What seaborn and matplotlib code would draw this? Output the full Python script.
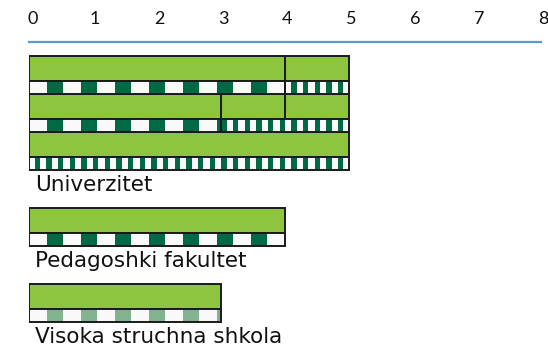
import numpy as np
import pandas as pd
import matplotlib
matplotlib.use("Agg")
import matplotlib.pyplot as plt
import matplotlib.transforms as mtransforms
import seaborn as sns

# ---- data ----
row_ids = ["U 4+1", "U 3+1+1", "U 5", "P 4", "V 3"]
row_pos = [0, 1, 2, 4, 6]
segments = [[4, 1], [3, 1, 1], [5], [4], [3]]
stripe_kinds = [["wide", "narrow"], ["wide", "narrow"], ["narrow"], ["wide"], ["wide_light"]]
stripe_lengths = [[4, 1], [3, 2], [5], [4], [3]]
group_labels = ["Univerzitet", "Pedagoshki fakultet", "Visoka struchna shkola"]
group_label_rows = [3, 5, 7]
x_ticks = [0, 1, 2, 3, 4, 5, 6, 7, 8]

# ---- style ----
GREEN = "#8DC53F"
DARK = "#006A44"
LIGHT = "#80B38E"
WHITE = "#F9F9F9"
EDGE = "#1A1A1A"
BLUE = "#5B9BD5"

sns.set_theme(style="white")
plt.rcParams["font.family"] = ["DejaVu Sans"]

fig = plt.figure(figsize=(5.48, 3.47), dpi=100)
ax = fig.add_axes([29 / 548, 0, 512 / 548, 305 / 347])

totals = [sum(s) for s in segments]
df = pd.DataFrame({"row": row_pos, "total": totals, "id": row_ids})

GH = 0.66  # green bar height (row units)
SH = 0.34  # stripe bar height
sns.barplot(data=df, x="total", y="row", orient="h", native_scale=True,
            color=GREEN, saturation=1, width=GH, edgecolor=EDGE, linewidth=1.4,
            ax=ax, zorder=2)

# internal dividers of green bars
for k, segs in zip(row_pos, segments):
    cum = np.cumsum(segs)[:-1]
    if len(cum):
        ax.vlines(cum, k - GH / 2, k + GH / 2, color=EDGE, lw=1.4, zorder=3)

# striped bars
patterns = {
    "wide": (0.531, 0.276, 0.26, DARK),
    "wide_light": (0.531, 0.276, 0.26, LIGHT),
    "narrow": (0.1823, 0.089, 0.085, DARK),
}
for k, kinds, lens in zip(row_pos, stripe_kinds, stripe_lengths):
    yc = k + GH / 2 + SH / 2
    x0 = 0.0
    for kind, L in zip(kinds, lens):
        x1 = x0 + L
        period, phase, dw, col = patterns[kind]
        ax.barh(yc, L, left=x0, height=SH, color=WHITE, edgecolor="none", zorder=2)
        n0 = int(np.floor((x0 - phase) / period)) - 1
        starts = phase + period * np.arange(n0, n0 + int(L / period) + 4)
        xs, ws = [], []
        for s in starts:
            a, b = max(s, x0), min(s + dw, x1)
            if b > a:
                xs.append(a)
                ws.append(b - a)
        ax.barh([yc] * len(xs), ws, left=xs, height=SH, color=col,
                edgecolor="none", zorder=3)
        ax.barh(yc, L, left=x0, height=SH, fill=False, edgecolor=EDGE,
                linewidth=1.4, zorder=4)
        x0 = x1

# group labels
for lab, r in zip(group_labels, group_label_rows):
    ax.text(0.1, r + 0.07, lab, fontsize=15.5, va="center", ha="left",
            color="#111111", clip_on=False)

# axes
ax.set_xlim(0, 8)
ax.set_ylim(7.328, -0.698)
ax.set_xticks(x_ticks)
ax.set_xticklabels([str(t) for t in x_ticks], fontsize=13, family="Lato", color="#111111")
ax.xaxis.tick_top()
ax.tick_params(axis="x", length=0, pad=11, top=True, bottom=False)
for i, lbl in enumerate(ax.get_xticklabels()):
    dx = 4 if i == 0 else 2
    lbl.set_transform(lbl.get_transform() +
                      mtransforms.ScaledTranslation(dx / 100, 0, fig.dpi_scale_trans))
ax.set_yticks([])
ax.set_xlabel("")
ax.set_ylabel("")
for s in ["left", "right", "bottom"]:
    ax.spines[s].set_visible(False)
ax.spines["top"].set_color(BLUE)
ax.spines["top"].set_linewidth(1.6)
ax.set_facecolor("white")
ax.grid(False)

fig.savefig("out.png", dpi=100, facecolor="white")
